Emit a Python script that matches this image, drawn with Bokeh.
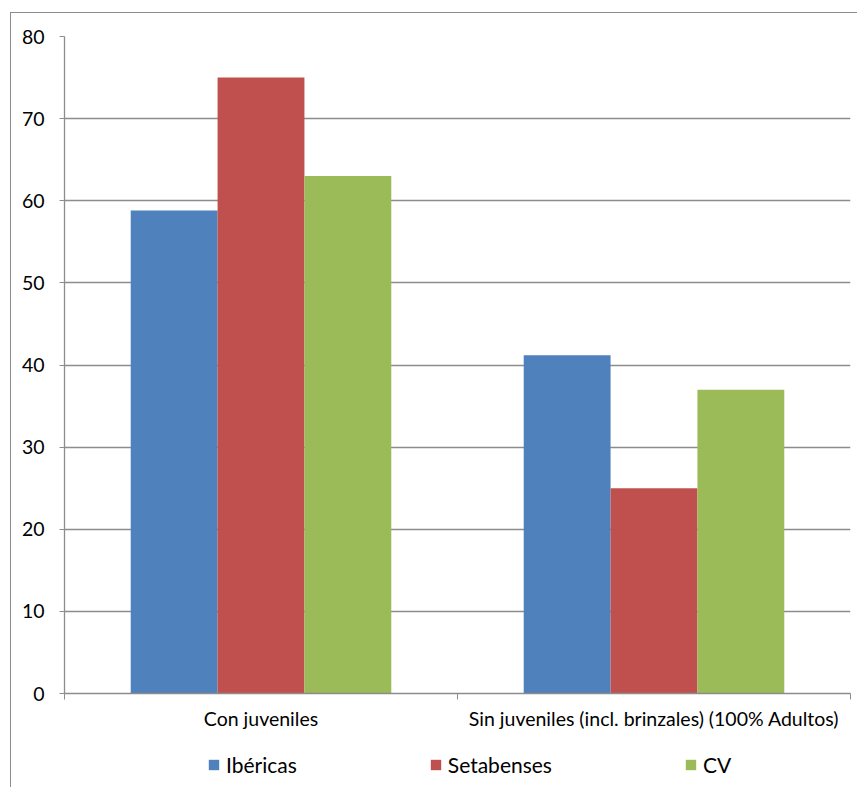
from bokeh.plotting import figure
from bokeh.layouts import column
from bokeh.models import FixedTicker, Legend, LegendItem, Range1d, ColumnDataSource
from bokeh.embed import file_html
from bokeh.resources import INLINE

# Data
categories = ["Con juveniles", "Sin juveniles (incl. brinzales) (100% Adultos)"]
series_names = ["Ibéricas", "Setabenses", "CV"]
ibericas = [58.8, 41.2]
setabenses = [75, 25]
cv = [63, 37]
y_ticks = [0, 10, 20, 30, 40, 50, 60, 70, 80]

series_values = [ibericas, setabenses, cv]
colors = ["#4F81BD", "#C0504D", "#9BBB59"]

FONT = "Lato"
GRID = "#8c8c8c"
bar_w = 0.221

p = figure(width=847, height=730,
           x_range=Range1d(0, len(categories)), y_range=Range1d(0, 80),
           output_backend="svg", toolbar_location=None,
           min_border_left=53, min_border_right=8,
           min_border_top=23, min_border_bottom=50)
p.outline_line_color = None
p.background_fill_color = "white"
p.border_fill_color = "white"

# Clustered bars: one renderer per series, offset around each category centre
sources = []
for k, (vals, col) in enumerate(zip(series_values, colors)):
    xs = [i + 0.5 + (k - 1) * bar_w for i in range(len(categories))]
    src = ColumnDataSource(dict(x=xs, top=vals))
    sources.append(src)
    p.vbar(x="x", top="top", width=bar_w, bottom=0, source=src,
           fill_color=col, line_color=None)

# Category axis: labels at the centres, tick marks at the boundaries
centres = [i + 0.5 for i in range(len(categories))]
bounds = list(range(len(categories) + 1))
p.xaxis.ticker = FixedTicker(ticks=centres, minor_ticks=bounds)
p.xaxis.major_label_overrides = {c: lab for c, lab in zip(centres, categories)}
p.xaxis.major_tick_out = 0
p.xaxis.major_tick_in = 0
p.xaxis.minor_tick_out = 6
p.xaxis.minor_tick_in = 0
p.xaxis.minor_tick_line_color = GRID
p.xaxis.axis_line_color = GRID
p.xaxis.axis_line_width = 1.3
p.xaxis.major_label_standoff = 7
p.xaxis.major_label_text_font = FONT
p.xaxis.major_label_text_font_size = "19.5px"
p.xaxis.major_label_text_color = "black"

p.yaxis.ticker = FixedTicker(ticks=y_ticks, minor_ticks=[])
p.yaxis.major_tick_out = 5
p.yaxis.major_tick_in = 0
p.yaxis.major_tick_line_color = GRID
p.yaxis.axis_line_color = GRID
p.yaxis.axis_line_width = 1.3
p.yaxis.major_label_standoff = 15
p.yaxis.major_label_text_font = FONT
p.yaxis.major_label_text_font_size = "19.5px"
p.yaxis.major_label_text_color = "black"

p.xgrid.visible = False
p.ygrid.grid_line_color = GRID
p.ygrid.grid_line_width = 1.3

# Legend strip underneath the chart; its swatch renderers reuse the bar
# sources but sit outside the strip's visible y range
lg = figure(width=847, height=45, x_range=Range1d(0, 1), y_range=Range1d(100, 101),
            x_axis_type=None, y_axis_type=None, output_backend="svg",
            toolbar_location=None, min_border=0)
lg.outline_line_color = None
lg.xgrid.visible = False
lg.ygrid.visible = False
lg.background_fill_color = None
lg.border_fill_color = None
swatches = [lg.vbar(x="x", top="top", width=bar_w, source=s, fill_color=c, line_color=None)
            for s, c in zip(sources, colors)]

legend = Legend(
    items=[LegendItem(label=n, renderers=[r]) for n, r in zip(series_names, swatches)],
    orientation="horizontal", location=(143, 11),
    glyph_width=13, glyph_height=13, label_standoff=6, spacing=132,
    label_height=20, padding=0, margin=0, border_line_color=None,
    background_fill_alpha=0,
    label_text_font=FONT, label_text_font_size="21px", label_text_color="black",
)
lg.add_layout(legend)

page = column(p, lg, margin=(12, 0, 0, 10),
              styles={"border-left": "1px solid #8c8c8c", "border-top": "1px solid #8c8c8c"})

open("out.html", "w").write(file_html(page, INLINE))
